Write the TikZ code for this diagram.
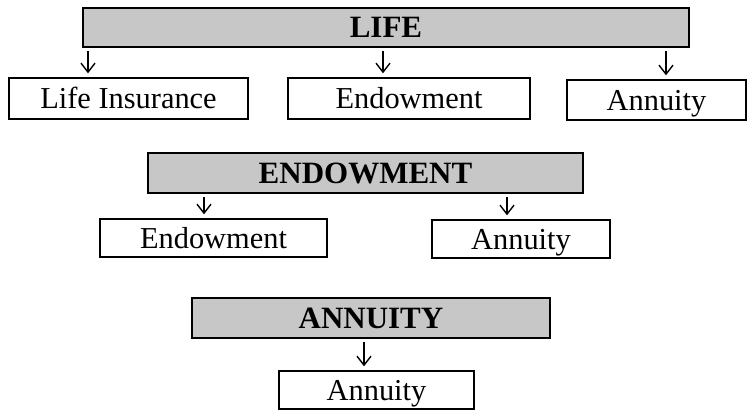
\documentclass[tikz,border=0pt]{standalone}
\usepackage{fontspec}
\setmainfont{Liberation Serif}
\usetikzlibrary{arrows.meta}

\begin{document}
\begin{tikzpicture}[
    x=0.5pt, y=-0.5pt, % pixel-like units, y grows downwards
    head/.style={
        draw, % border round the bar
        line width=0.9pt,
        fill=black!22, % grey shading of the bar
        inner sep=0pt,
        minimum height=20pt,
        font=\fontsize{15.5}{18}\selectfont\bfseries
    },
    leaf/.style={
        draw, % plain box
        line width=0.7pt,
        inner sep=0pt,
        minimum height=19pt,
        text height=13pt, text depth=2.5pt, % same baseline in every box
        font=\fontsize{15.2}{18}\selectfont
    },
    down/.style={
        -{Straight Barb[length=4.5pt,width=7pt]}, % small open arrow head
        line width=0.7pt,
        shorten <=1.5pt, shorten >=2pt
    }
]
\useasboundingbox (0,0) rectangle (752,410);

% first group
\node[head, minimum width=303pt, minimum height=19.5pt] (life) at (386,27.5) {LIFE};
\node[leaf, minimum width=119.5pt, minimum height=20.5pt] (lins) at (128.5,98.5) {Life Insurance};
\node[leaf, minimum width=121pt, minimum height=20.5pt] (endA) at (409,98.5) {Endowment};
\node[leaf, minimum width=89.5pt, minimum height=20pt] (annA) at (656.5,100) {Annuity};
\draw[down] (life.south -| 88,0) -- (lins.north -| 88,0);
\draw[down] (life.south -| 383,0) -- (endA.north -| 383,0);
\draw[down] (life.south -| 666,0) -- (annA.north -| 666,0);

% second group
\node[head, minimum width=217.5pt] (endow) at (365.5,173) {ENDOWMENT};
\node[leaf, minimum width=113.5pt] (endB) at (213.5,238) {Endowment};
\node[leaf, minimum width=89pt] (annB) at (521,239) {Annuity};
\draw[down] (endow.south -| 204,0) -- (endB.north -| 204,0);
\draw[down] (endow.south -| 507,0) -- (annB.north -| 507,0);

% third group
\node[head, minimum width=179pt] (annuity) at (371,318) {ANNUITY};
\node[leaf, minimum width=97.5pt] (annC) at (376.5,390) {Annuity};
\draw[down] (annuity.south -| 364,0) -- (annC.north -| 364,0);
\end{tikzpicture}
\end{document}
